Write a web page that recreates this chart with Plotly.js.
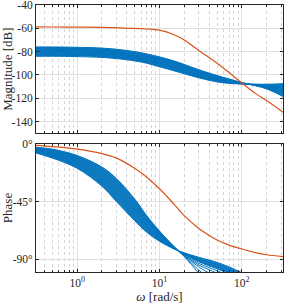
<!DOCTYPE html>
<html>
<head>
<meta charset="utf-8">
<script src="https://cdn.plot.ly/plotly-3.0.1.min.js"></script>
<style>html,body{margin:0;padding:0;background:#fff;}#plot{width:285px;height:304px;}</style>
</head>
<body>
<div id="plot"></div>
<script>
const freqs = [0.316, 0.5, 1, 2, 3, 5, 7, 10, 15, 20, 30, 50, 70, 100, 150, 200, 316];

// Blue family: magnitude [dB]
const magBlue = [
  [-76, -76, -76.3, -77, -78, -80, -82, -84.5, -88, -91, -95.5, -100.5, -103.5, -106.5, -109.5, -112, -118.5],
  [-77, -77, -77.3, -78, -79, -81, -83, -85.6, -89, -92, -96.5, -101.2, -104, -106.7, -109.3, -111.4, -117.2],
  [-78, -78, -78.3, -79, -80, -82, -84, -86.6, -90, -93, -97.3, -102, -104.5, -107, -109.1, -110.9, -116],
  [-79, -79, -79.3, -80, -81, -83, -85, -87.7, -91.1, -94, -98.2, -102.7, -105, -107.2, -108.9, -110.3, -114.6],
  [-80, -80, -80.3, -81, -82, -84, -86, -88.8, -92.3, -95, -99.1, -103.4, -105.5, -107.3, -108.7, -109.8, -113.2],
  [-81, -81, -81.3, -82, -83, -85, -87, -89.9, -93.4, -96, -100, -104.1, -106, -107.5, -108.5, -109.3, -111.8],
  [-82, -82, -82.3, -83, -84, -86, -88, -90.9, -94.4, -97, -100.8, -104.8, -106.4, -107.6, -108.3, -108.8, -110.4],
  [-83, -83, -83.3, -84, -85, -87, -89, -92, -95.5, -98, -101.7, -105.4, -106.8, -107.7, -108.1, -108.4, -109],
  [-84, -84, -84.3, -85, -86, -88, -90, -93, -96.5, -99, -102.5, -106, -107.2, -107.8, -108, -108, -107.5]
];

// Blue family: phase [deg]
const phaseBlue = [
  [-2.5, -4, -9, -18, -27, -43, -56, -68, -80, -88, -101, -118, -128, -140, -155, -165, -185],
  [-3.1, -4.9, -10.2, -19.9, -29.3, -45.1, -57.6, -69, -80.3, -87.6, -98.5, -110, -118, -128, -145, -155, -175],
  [-3.7, -5.7, -11.5, -21.7, -31.5, -47.3, -59.1, -70, -80.5, -87.3, -96, -104.5, -111, -120, -135, -145, -165],
  [-4.3, -6.6, -12.7, -23.6, -33.8, -49.4, -60.6, -71, -80.8, -86.9, -94.5, -101, -106.5, -114, -127, -137, -155],
  [-4.8, -7.5, -14, -25.5, -36, -51.5, -62.5, -72, -81, -86.5, -93.2, -99, -103.5, -110, -120, -130, -148],
  [-5.4, -8.4, -15.3, -27.3, -38.3, -53.6, -64, -73, -81.3, -86.1, -92, -97.5, -101.5, -107, -116, -124, -140],
  [-6, -9.3, -16.5, -29.2, -40.5, -55.8, -65.6, -74, -81.5, -85.8, -91, -96, -100, -105, -112, -119, -133],
  [-6.5, -10.1, -17.8, -31.1, -42.8, -57.9, -67.3, -75, -81.8, -85.4, -89.8, -94.3, -98, -102.8, -109, -114, -126],
  [-7, -11, -19, -33, -45, -60, -69, -76, -82, -85, -88.5, -92.5, -96, -100.5, -106, -111, -122]
];

// Orange curve
const magOrange   = [-58.8, -58.9, -59, -59.2, -59.5, -60, -60.6, -61.6, -65.5, -70, -79, -90, -98, -107, -116.5, -122, -132];
const phaseOrange = [-1, -2, -4, -7.5, -11, -19, -26, -35, -47, -56, -66, -75, -79, -82, -85, -86.5, -88];

// Tick labels
const magTicks = [-40, -60, -80, -100, -120, -140];
const magTickText = ['-40', '-60', '-80', '-100', '-120', '-140'];
const phaseTicks = [0, -45, -90];
const phaseTickText = ['0°', '-45°', '-90°'];
const freqTicks = [1, 10, 100];
const freqTickText = ['10<sup>0</sup>', '10<sup>1</sup>', '10<sup>2</sup>'];
const freqMinor = [0.4, 0.5, 0.6, 0.7, 0.8, 0.9, 2, 3, 4, 5, 6, 7, 8, 9, 20, 30, 40, 50, 60, 70, 80, 90, 200, 300];

const BLUE = '#0072BD', ORANGE = '#D95319', BANDFILL = 'rgba(0,114,189,0.9)';
const traces = [];
const last = magBlue.length - 1;

// shaded envelope of the blue family (magnitude, full range)
traces.push({x: freqs, y: magBlue[last], xaxis: 'x', yaxis: 'y', mode: 'lines',
  line: {width: 0, shape: 'spline', smoothing: 1}, showlegend: false, hoverinfo: 'skip'});
traces.push({x: freqs, y: magBlue[0], xaxis: 'x', yaxis: 'y', mode: 'lines', fill: 'tonexty', fillcolor: BANDFILL,
  line: {width: 0, shape: 'spline', smoothing: 1}, showlegend: false, hoverinfo: 'skip'});

// shaded envelope of the blue family (phase): whole band up to the pinch, dense part after it
const pinch = 8;
traces.push({x: freqs.slice(0, pinch + 1), y: phaseBlue[last].slice(0, pinch + 1), xaxis: 'x2', yaxis: 'y2', mode: 'lines',
  line: {width: 0, shape: 'spline', smoothing: 1}, showlegend: false, hoverinfo: 'skip'});
traces.push({x: freqs.slice(0, pinch + 1), y: phaseBlue[0].slice(0, pinch + 1), xaxis: 'x2', yaxis: 'y2', mode: 'lines',
  fill: 'tonexty', fillcolor: BANDFILL,
  line: {width: 0, shape: 'spline', smoothing: 1}, showlegend: false, hoverinfo: 'skip'});
traces.push({x: freqs.slice(pinch), y: phaseBlue[last].slice(pinch), xaxis: 'x2', yaxis: 'y2', mode: 'lines',
  line: {width: 0, shape: 'spline', smoothing: 1}, showlegend: false, hoverinfo: 'skip'});
traces.push({x: freqs.slice(pinch), y: phaseBlue[5].slice(pinch), xaxis: 'x2', yaxis: 'y2', mode: 'lines',
  fill: 'tonexty', fillcolor: BANDFILL,
  line: {width: 0, shape: 'spline', smoothing: 1}, showlegend: false, hoverinfo: 'skip'});

magBlue.forEach(m => traces.push({x: freqs, y: m, xaxis: 'x', yaxis: 'y', mode: 'lines',
  line: {color: BLUE, width: 1, shape: 'spline', smoothing: 1}, showlegend: false, hoverinfo: 'skip'}));
phaseBlue.forEach(p => traces.push({x: freqs, y: p, xaxis: 'x2', yaxis: 'y2', mode: 'lines',
  line: {color: BLUE, width: 1, shape: 'spline', smoothing: 1}, showlegend: false, hoverinfo: 'skip'}));
traces.push({x: freqs, y: magOrange, xaxis: 'x', yaxis: 'y', mode: 'lines',
  line: {color: ORANGE, width: 1.2, shape: 'spline', smoothing: 1}, showlegend: false});
traces.push({x: freqs, y: phaseOrange, xaxis: 'x2', yaxis: 'y2', mode: 'lines',
  line: {color: ORANGE, width: 1.2, shape: 'spline', smoothing: 1}, showlegend: false});

const FONT = 'Times New Roman, Liberation Serif, Tinos, Noto Serif, DejaVu Serif, serif';
const axCommon = {showline: true, linecolor: '#262626', linewidth: 1, mirror: 'allticks',
  ticks: 'inside', ticklen: 3, tickcolor: '#262626', gridcolor: '#e0e0e0', gridwidth: 1,
  zeroline: false, ticklabeloverflow: 'allow', tickfont: {family: FONT, size: 11.5, color: '#262626'}};
const xCommon = Object.assign({}, axCommon, {type: 'log', range: [-0.5, 2.5],
  tickvals: freqTicks, ticktext: freqTickText,
  minor: {tickvals: freqMinor, ticks: 'inside', ticklen: 2, tickcolor: '#262626',
    showgrid: true, gridcolor: '#d4d4d4', griddash: 'dot', gridwidth: 1}});

const layout = {
  width: 285, height: 304,
  margin: {l: 36, r: 2, t: 5, b: 32},
  paper_bgcolor: '#ffffff', plot_bgcolor: '#ffffff',
  font: {family: FONT, color: '#262626'},
  xaxis: Object.assign({}, xCommon, {anchor: 'y', showticklabels: false}),
  xaxis2: Object.assign({}, xCommon, {anchor: 'y2', matches: 'x',
    title: {text: '<i>ω</i> [rad/s]', font: {family: FONT, size: 13, color: '#262626'}, standoff: 2}}),
  yaxis: Object.assign({}, axCommon, {domain: [0.52, 1], range: [-150, -40], tickvals: magTicks, ticktext: magTickText,
    title: {text: 'Magnitude [dB]', font: {family: FONT, size: 13, color: '#262626'}}}),
  yaxis2: Object.assign({}, axCommon, {domain: [0, 0.4794], range: [-100, 0], tickvals: phaseTicks, ticktext: phaseTickText,
    title: {text: 'Phase', font: {family: FONT, size: 13, color: '#262626'}}})
};

Plotly.newPlot('plot', traces, layout, {displayModeBar: false, staticPlot: true});
</script>
</body>
</html>
